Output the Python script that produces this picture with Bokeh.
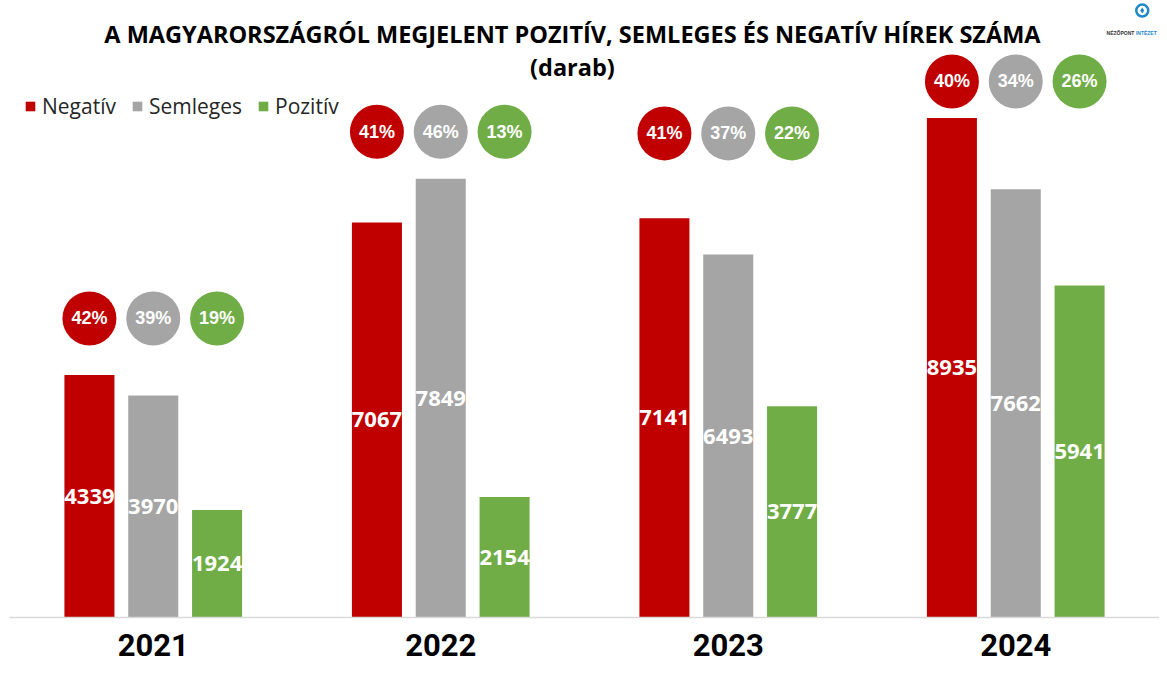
from bokeh.plotting import figure
from bokeh.models import ColumnDataSource, FactorRange, Label, Legend, LegendItem
from bokeh.transform import dodge
from bokeh.core.properties import value
from bokeh.embed import file_html
from bokeh.resources import INLINE

# ---- data ----
years = ["2021", "2022", "2023", "2024"]
negativ = [4339, 7067, 7141, 8935]
semleges = [3970, 7849, 6493, 7662]
pozitiv = [1924, 2154, 3777, 5941]
neg_pct = ["42%", "41%", "41%", "40%"]
sem_pct = ["39%", "46%", "37%", "34%"]
poz_pct = ["19%", "13%", "22%", "26%"]
bubble_y = [5350, 8690, 8660, 9590]  # height of the percentage bubbles (data units)

RED, GRAY, GREEN = "#C00000", "#A5A5A5", "#70AD47"
OFF, BW = 0.222, 0.174
YMAX = 11038

src = ColumnDataSource(dict(
    years=years,
    negativ=negativ, semleges=semleges, pozitiv=pozitiv,
    neg_mid=[v / 2 for v in negativ], sem_mid=[v / 2 for v in semleges], poz_mid=[v / 2 for v in pozitiv],
    neg_lbl=[str(v) for v in negativ], sem_lbl=[str(v) for v in semleges], poz_lbl=[str(v) for v in pozitiv],
    neg_pct=neg_pct, sem_pct=sem_pct, poz_pct=poz_pct,
    bubble_y=bubble_y,
))

p = figure(frame_width=1150, frame_height=617, output_backend="svg", toolbar_location=None,
           x_range=FactorRange(factors=years, range_padding=0), y_range=(0, YMAX),
           y_axis_location=None, min_border=0, min_border_left=9, min_border_bottom=52,
           outline_line_color=None)
p.xgrid.visible = False
p.ygrid.visible = False
p.background_fill_color = "white"

series = [
    ("Negatív", "negativ", "neg_mid", "neg_lbl", "neg_pct", -OFF, RED),
    ("Semleges", "semleges", "sem_mid", "sem_lbl", "sem_pct", 0.0, GRAY),
    ("Pozitív", "pozitiv", "poz_mid", "poz_lbl", "poz_pct", OFF, GREEN),
]

items = []
for name, col, mid, lbl, pct, off, color in series:
    xx = dodge("years", off, range=p.x_range)
    r = p.vbar(x=xx, top=col, width=BW, source=src, fill_color=color, line_color=None)
    items.append(LegendItem(label=name, renderers=[r]))
    p.text(x=xx, y=mid, text=lbl, source=src, text_align="center", text_baseline="middle",
           text_color="white", text_font=value("Open Sans"), text_font_style="bold",
           text_font_size="22px")
    p.scatter(x=xx, y="bubble_y", source=src, marker="circle", size=54,
              fill_color=color, line_color=None)
    p.text(x=xx, y="bubble_y", text=pct, source=src, text_align="center", text_baseline="middle",
           text_color="white", text_font=value("Liberation Sans"), text_font_style="bold",
           text_font_size="18px")

legend = Legend(items=items, orientation="horizontal", location=(15, 497),
                glyph_width=12, glyph_height=12, label_standoff=6, spacing=15,
                padding=0, margin=0, border_line_color=None, background_fill_alpha=0,
                label_text_font="Open Sans", label_text_font_size="21px",
                label_text_color="#262626")
p.add_layout(legend)

# x axis
ax = p.xaxis[0]
ax.axis_line_color = "#D9D9D9"
ax.axis_line_width = 1.5
ax.major_tick_line_color = None
ax.minor_tick_line_color = None
ax.major_tick_out = 0
ax.major_tick_in = 0
ax.major_label_standoff = 16
ax.major_label_text_font = "Roboto"
ax.major_label_text_font_style = "bold"
ax.major_label_text_font_size = "31px"
ax.major_label_text_color = "black"

# titles
p.add_layout(Label(x=1.958, y=10438, text="A MAGYARORSZÁGRÓL MEGJELENT POZITÍV, SEMLEGES ÉS NEGATÍV HÍREK SZÁMA",
                   text_align="center", text_baseline="middle", text_font="Open Sans",
                   text_font_style="bold", text_font_size="23.5px", text_color="black"))
p.add_layout(Label(x=1.958, y=9857, text="(darab)",
                   text_align="center", text_baseline="middle", text_font="Open Sans",
                   text_font_style="bold", text_font_size="23.5px", text_color="black"))

# logo
p.scatter(x=[3.940], y=[10859], marker="circle", size=12, fill_color=None,
          line_color="#1E88C8", line_width=2.5)
p.scatter(x=[3.940], y=[10859], marker="diamond", size=6, fill_color="#1E88C8", line_color=None)
p.add_layout(Label(x=3.816, y=10465, text="NÉZŐPONT", text_font="Liberation Sans",
                   text_font_style="bold", text_font_size="5px", text_color="#333333",
                   text_baseline="middle"))
p.add_layout(Label(x=3.918, y=10465, text="INTÉZET", text_font="Liberation Sans",
                   text_font_style="bold", text_font_size="5px", text_color="#1E88C8",
                   text_baseline="middle"))

open("out.html", "w").write(file_html(p, INLINE))
